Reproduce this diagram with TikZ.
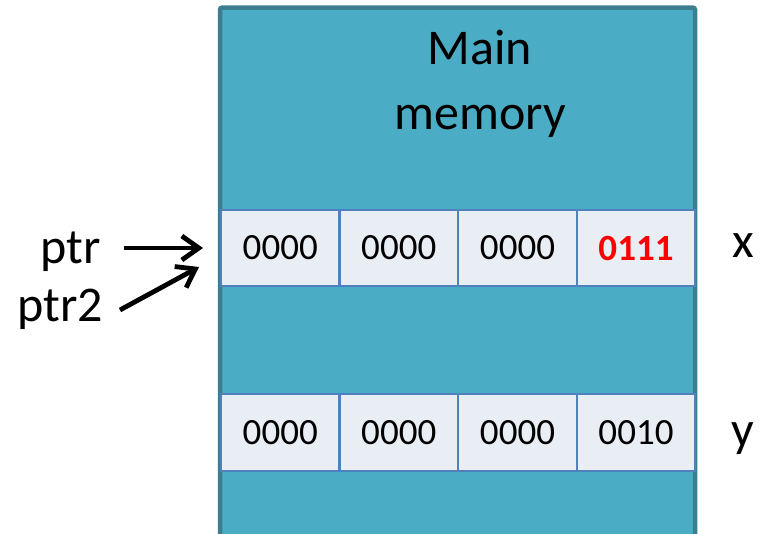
\documentclass[tikz,border=0pt]{standalone}
\usepackage{fontspec}
\setmainfont{Carlito}
\usetikzlibrary{arrows.meta}
\definecolor{memfill}{HTML}{4BACC6}
\definecolor{memedge}{HTML}{3A7E8F}
\definecolor{cellfill}{HTML}{E9EDF4}
\definecolor{celledge}{HTML}{4F81BD}
\tikzset{
  cellbox/.style={draw=celledge, fill=cellfill, line width=2.2pt, minimum width=118.5pt, minimum height=76.5pt, inner sep=0pt, outer sep=0pt, font=\fontsize{37}{40}\selectfont},
  biglabel/.style={font=\fontsize{50}{60}\selectfont, inner sep=0pt},
  ptrarrow/.style={line width=4.8pt, -{Straight Barb[length=17pt,width=24pt,line width=4.8pt]}},
}
\begin{document}
\begin{tikzpicture}[x=1pt,y=-1pt]
\useasboundingbox (0,0) rectangle (769,534);
\draw[memedge, fill=memfill, line width=4.5pt, rounded corners=2pt] (220,7.7) rectangle (695,545);
\node[biglabel, align=center, font=\fontsize{50}{65}\selectfont, anchor=base] (main) at (480,130) {Main\\memory};
% row x
\node[cellbox] (x1) at (280.25,248) {0000};
\node[cellbox] (x2) at (398.75,248) {0000};
\node[cellbox] (x3) at (517.5,248) {0000};
\node[cellbox, text=red, font=\fontsize{37}{40}\selectfont\bfseries] (x4) at (636,248) {0111};
% row y
\node[cellbox] (y1) at (280.25,432.5) {0000};
\node[cellbox] (y2) at (398.75,432.5) {0000};
\node[cellbox] (y3) at (517.5,432.5) {0000};
\node[cellbox] (y4) at (636,432.5) {0010};
% labels
\node[biglabel] (lx) at (743,246) {x};
\node[biglabel, anchor=base] (ly) at (743,447) {y};
\node[biglabel, anchor=base east] (ptr) at (101,264) {ptr};
\node[biglabel, anchor=base east] (ptrtwo) at (103,322) {ptr2};
\coordinate (ptrend) at (203,248);
\coordinate (ptrtwoend) at (199,267);
\coordinate (ptrstart) at (124,248);
\coordinate (ptrtwostart) at (120,310);
\draw[ptrarrow] (ptrstart) -- (ptrend);
\draw[ptrarrow] (ptrtwostart) -- (ptrtwoend);
\end{tikzpicture}
\end{document}
